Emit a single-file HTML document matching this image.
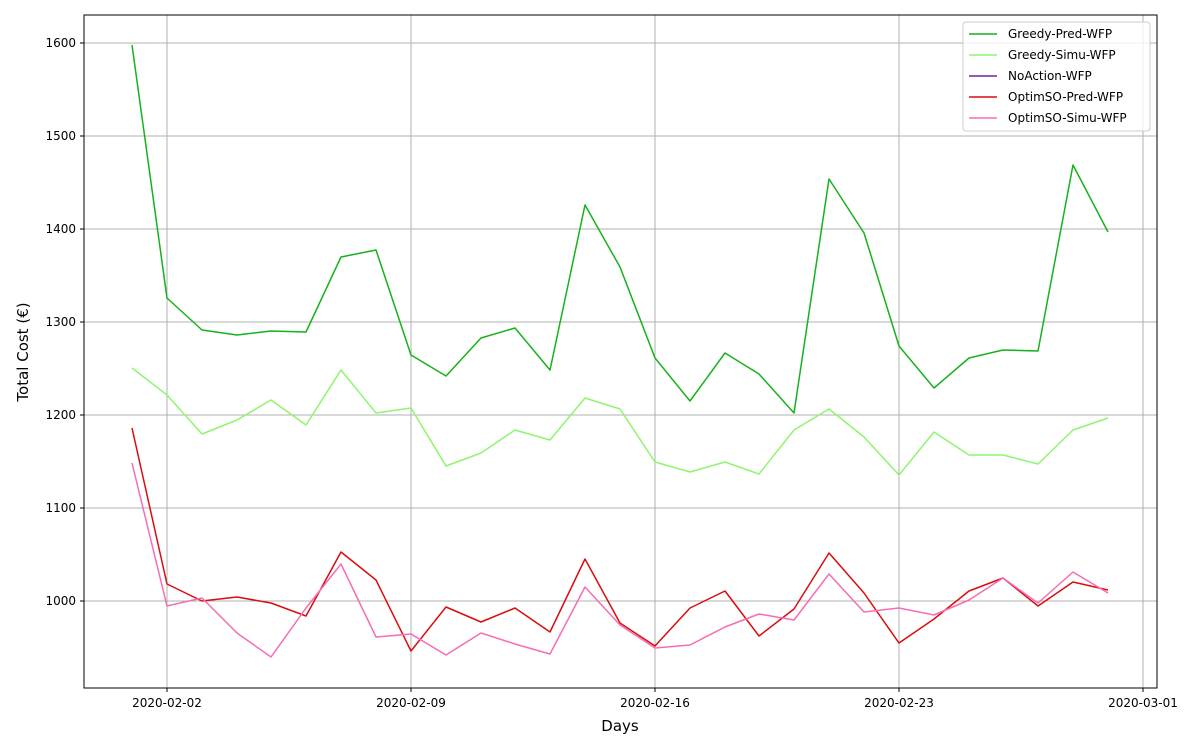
<!DOCTYPE html>
<html><head><meta charset="utf-8"><style>
body{margin:0;background:#fff;}
svg text{font-family:"DejaVu Sans","Liberation Sans",sans-serif;fill:#000;}
</style></head><body>
<svg width="1200" height="750" xmlns="http://www.w3.org/2000/svg">
<rect width="1200" height="750" fill="#fff"/>
<g stroke="#b0b0b0" stroke-width="1">
<line x1="167" y1="15" x2="167" y2="688"/><line x1="411" y1="15" x2="411" y2="688"/>
<line x1="655" y1="15" x2="655" y2="688"/><line x1="899" y1="15" x2="899" y2="688"/>
<line x1="1143" y1="15" x2="1143" y2="688"/>
<line x1="84" y1="43" x2="1157" y2="43"/><line x1="84" y1="136" x2="1157" y2="136"/>
<line x1="84" y1="229" x2="1157" y2="229"/><line x1="84" y1="322" x2="1157" y2="322"/>
<line x1="84" y1="415" x2="1157" y2="415"/><line x1="84" y1="508" x2="1157" y2="508"/>
<line x1="84" y1="601" x2="1157" y2="601"/>
</g>
<g fill="none" stroke-width="1.5" stroke-linejoin="round">
<polyline stroke="#16b21c" points="132,45 167,298 202,330 237,335 271,331 306,332 341,257 376,250 411,355 446,376 481,338 515,328 550,370 585,205 620,267 655,358 690,401 725,353 759,374 794,413 829,179 864,233 899,346 934,388 969,358 1003,350 1038,351 1073,165 1108,232"/>
<polyline stroke="#8ff56e" points="132,368 167,395 202,434 237,420 271,400 306,425 341,370 376,413 411,408 446,466 481,453 515,430 550,440 585,398 620,409 655,462 690,472 725,462 759,474 794,430 829,409 864,437 899,475 934,432 969,455 1003,455 1038,464 1073,430 1108,418"/>
<polyline stroke="#d90d0d" points="132,428 167,584 202,601 237,597 271,603 306,616 341,552 376,580 411,651 446,607 481,622 515,608 550,632 585,559 620,623 655,646 690,608 725,591 759,636 794,609 829,553 864,593 899,643 934,619 969,591 1003,578 1038,606 1073,582 1108,590"/>
<polyline stroke="#f76cb4" points="132,463 167,606 202,598 237,633 271,657 306,608 341,564 376,637 411,634 446,655 481,633 515,644 550,654 585,587 620,625 655,648 690,645 725,627 759,614 794,620 829,574 864,612 899,608 934,615 969,600 1003,578 1038,603 1073,572 1108,593"/>
</g>
<rect x="84" y="15" width="1073" height="673" fill="none" stroke="#000" stroke-width="1"/>
<g stroke="#000">
<line x1="167" y1="688" x2="167" y2="692"/><line x1="411" y1="688" x2="411" y2="692"/>
<line x1="655" y1="688" x2="655" y2="692"/><line x1="899" y1="688" x2="899" y2="692"/>
<line x1="1143" y1="688" x2="1143" y2="692"/>
<line x1="80" y1="43" x2="84" y2="43"/><line x1="80" y1="136" x2="84" y2="136"/>
<line x1="80" y1="229" x2="84" y2="229"/><line x1="80" y1="322" x2="84" y2="322"/>
<line x1="80" y1="415" x2="84" y2="415"/><line x1="80" y1="508" x2="84" y2="508"/>
<line x1="80" y1="601" x2="84" y2="601"/>
</g>
<g font-size="12" text-anchor="middle">
<text x="167" y="707">2020-02-02</text><text x="411" y="707">2020-02-09</text>
<text x="655" y="707">2020-02-16</text><text x="899" y="707">2020-02-23</text>
<text x="1143" y="707">2020-03-01</text>
</g>
<g font-size="12" text-anchor="end">
<text x="76" y="47">1600</text><text x="76" y="140">1500</text><text x="76" y="233">1400</text>
<text x="76" y="326">1300</text><text x="76" y="419">1200</text><text x="76" y="512">1100</text>
<text x="76" y="605">1000</text>
</g>
<text x="620" y="731" font-size="15" text-anchor="middle">Days</text>
<text transform="translate(28,352) rotate(-90)" font-size="15" text-anchor="middle">Total Cost (€)</text>
<rect x="963" y="22" width="187" height="109" rx="3" fill="#fff" fill-opacity="0.8" stroke="#ccc"/>
<g stroke-width="1.5">
<line x1="969" y1="34" x2="997" y2="34" stroke="#16b21c"/>
<line x1="969" y1="55" x2="997" y2="55" stroke="#8ff56e"/>
<line x1="969" y1="76" x2="997" y2="76" stroke="#7a1fa2"/>
<line x1="969" y1="97" x2="997" y2="97" stroke="#d90d0d"/>
<line x1="969" y1="118" x2="997" y2="118" stroke="#f76cb4"/>
</g>
<g font-size="12">
<text x="1008" y="38">Greedy-Pred-WFP</text>
<text x="1008" y="59">Greedy-Simu-WFP</text>
<text x="1008" y="80">NoAction-WFP</text>
<text x="1008" y="101">OptimSO-Pred-WFP</text>
<text x="1008" y="122">OptimSO-Simu-WFP</text>
</g>
</svg>
</body></html>
